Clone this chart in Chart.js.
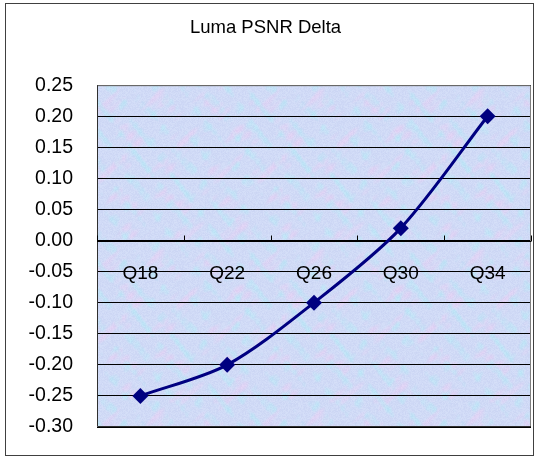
<!DOCTYPE html>
<html>
<head>
<meta charset="utf-8">
<script src="https://cdn.jsdelivr.net/npm/chart.js@4/dist/chart.umd.min.js"></script>
<style>
  html, body { margin: 0; padding: 0; background: #fff; }
  #wrap { width: 540px; height: 457px; }
</style>
</head>
<body>
<div id="wrap"><canvas id="lumaCanvas" width="540" height="457"></canvas></div>
<script>
let categories = ['Q18', 'Q22', 'Q26', 'Q30', 'Q34'];
let lumaDelta = [-0.25, -0.20, -0.10, 0.02, 0.20];
let yMin = -0.30;
let yMax = 0.25;
let yStep = 0.05;

let FONT = '"Liberation Sans", Arial, sans-serif';

// mottled blue/pink fill like the old Excel texture
let makeTexture = function () {
    let size = 160;
    let c = document.createElement('canvas');
    c.width = size;
    c.height = size;
    let g = c.getContext('2d');
    let img = g.createImageData(size, size);
    let k = Math.PI * 2 / size;
    for (let y = 0; y < size; y++) {
        for (let x = 0; x < size; x++) {
            let a = Math.sin(x * k * 3 + Math.sin(y * k * 2) * 1.7)
                + Math.sin(y * k * 5 + Math.cos(x * k * 4) * 1.3)
                + 0.6 * Math.sin((x + y) * k * 11);
            let b = Math.sin(x * k * 7 - y * k * 5 + 0.8)
                + Math.cos(y * k * 6 + Math.sin(x * k * 4) * 2)
                + 0.5 * Math.sin(x * k * 17) * Math.sin(y * k * 13);
            let h = ((x * 73856093) ^ (y * 19349663)) >>> 0;
            let grain = ((h % 1000) / 1000 - 0.5) * 10;
            let pink = Math.max(0, a - 0.6) / 2;
            let cyan = Math.max(0, b - 0.4) / 2;
            let i = (y * size + x) * 4;
            img.data[i] = 208 + pink * 16 - cyan * 18 + grain;
            img.data[i + 1] = 218 - pink * 8 + cyan * 10 + grain;
            img.data[i + 2] = 246 - pink * 2 + grain * 0.5;
            img.data[i + 3] = 255;
        }
    }
    g.putImageData(img, 0, 0);
    return c;
};

let excelLook = {
    id: 'excelLook',
    beforeDraw: function (chart) {
        let ctx = chart.ctx;
        let area = chart.chartArea;
        ctx.save();
        ctx.fillStyle = '#fff';
        ctx.fillRect(0, 0, chart.width, chart.height);
        ctx.strokeStyle = '#404040';
        ctx.lineWidth = 1;
        ctx.strokeRect(5.5, 3.5, 528, 452);
        ctx.fillStyle = ctx.createPattern(makeTexture(), 'repeat');
        ctx.fillRect(area.left, area.top, area.right - area.left, area.bottom - area.top);
        ctx.restore();
    },
    beforeDatasetsDraw: function (chart) {
        let ctx = chart.ctx;
        let area = chart.chartArea;
        let xs = chart.scales.x;
        let ys = chart.scales.y;
        let zero = Math.round(ys.getPixelForValue(0)) + 0.5;
        ctx.save();
        ctx.lineWidth = 1;
        // plot frame
        ctx.strokeStyle = '#808080';
        ctx.beginPath();
        ctx.moveTo(area.left, area.top + 0.5);
        ctx.lineTo(area.right - 0.5, area.top + 0.5);
        ctx.lineTo(area.right - 0.5, area.bottom);
        ctx.stroke();
        ctx.strokeStyle = '#303030';
        ctx.beginPath();
        ctx.moveTo(area.left + 0.5, area.top);
        ctx.lineTo(area.left + 0.5, area.bottom - 0.5);
        ctx.lineTo(area.right, area.bottom - 0.5);
        ctx.stroke();
        // category axis at zero with tick marks between categories
        ctx.strokeStyle = '#000';
        ctx.beginPath();
        ctx.moveTo(area.left, zero);
        ctx.lineTo(area.right, zero);
        for (let i = 0; i <= categories.length; i++) {
            let px = Math.round(xs.getPixelForValue(i - 0.5)) + 0.5;
            ctx.moveTo(px, zero);
            ctx.lineTo(px, zero - 6);
        }
        ctx.stroke();
        ctx.fillStyle = '#000';
        ctx.font = '19px ' + FONT;
        ctx.textAlign = 'center';
        ctx.textBaseline = 'middle';
        categories.forEach(function (label, i) {
            ctx.fillText(label, xs.getPixelForValue(i), zero + 32);
        });
        ctx.restore();
    }
};

let ctx = document.getElementById('lumaCanvas').getContext('2d');

window.lumaChart = new Chart(ctx, {
    type: 'line',
    data: {
        labels: categories,
        datasets: [{
            data: lumaDelta,
            borderColor: '#000080',
            backgroundColor: '#000080',
            borderWidth: 3,
            tension: 0.3,
            pointStyle: 'rectRot',
            pointRadius: 8,
            pointHoverRadius: 8,
            pointBorderWidth: 0
        }]
    },
    options: {
        responsive: false,
        animation: false,
        events: [],
        layout: {
            autoPadding: false,
            padding: { left: 0, right: 9, top: 0, bottom: 30 }
        },
        plugins: {
            legend: { display: false },
            tooltip: { enabled: false },
            title: {
                display: true,
                text: 'Luma PSNR Delta',
                color: '#000',
                font: { family: FONT, size: 18.5, weight: 'normal' },
                padding: { top: 17, bottom: 46 }
            }
        },
        scales: {
            x: {
                display: false,
                offset: true
            },
            y: {
                min: yMin,
                max: yMax,
                afterFit: function (scale) {
                    // fixed axis width; label overhang must not shrink the plot
                    scale.width = 97;
                    scale.paddingTop = 0;
                    scale.paddingBottom = 0;
                },
                ticks: {
                    stepSize: yStep,
                    color: '#000',
                    padding: 24,
                    font: { family: FONT, size: 19.5 },
                    callback: function (v) {
                        return v.toFixed(2);
                    }
                },
                grid: {
                    color: '#000',
                    lineWidth: 1,
                    drawTicks: false
                },
                border: { display: false }
            }
        }
    },
    plugins: [excelLook]
});
</script>
</body>
</html>
